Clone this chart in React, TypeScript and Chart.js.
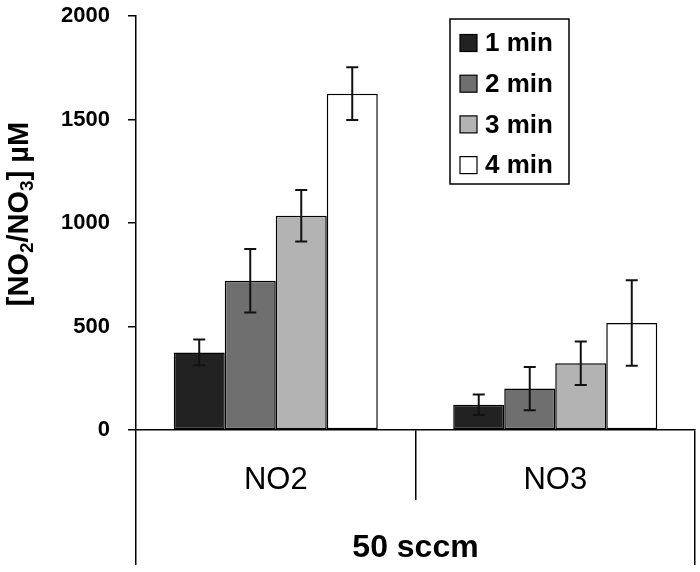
import React, { useEffect, useRef } from "react";
import { Chart, registerables } from "chart.js";

Chart.register(...registerables);

const categories = ["NO2", "NO3"];
const groupLabels = ["50 sccm"];
const seriesLabels = ["1 min", "2 min", "3 min", "4 min"];
const min1 = [375, 122];
const min2 = [721, 200];
const min3 = [1035, 322];
const min4 = [1625, 517];
const err1 = [62, 50];
const err2 = [153, 104];
const err3 = [124, 105];
const err4 = [128, 207];
const seriesColors = ["#222222", "#6f6f6f", "#b3b3b3", "#ffffff"];
const yMin = 0;
const yMax = 2000;
const yStep = 500;

const FONT = "'Liberation Sans', Arial, Helvetica, sans-serif";
const seriesValues = [min1, min2, min3, min4];
const seriesErrors = [err1, err2, err3, err4];

const errorBarPlugin = {
  id: "errorBars",
  afterDatasetsDraw(chart: any) {
    const ctx = chart.ctx;
    const yScale = chart.scales.y;
    ctx.save();
    ctx.strokeStyle = "#111";
    ctx.lineWidth = 2;
    chart.data.datasets.forEach((ds: any, i: number) => {
      const meta = chart.getDatasetMeta(i);
      meta.data.forEach((bar: any, j: number) => {
        const v = ds.data[j];
        const e = ds.errors[j];
        const yTop = yScale.getPixelForValue(v + e);
        const yBot = yScale.getPixelForValue(v - e);
        const x = bar.x;
        const cap = 6;
        ctx.beginPath();
        ctx.moveTo(x, yTop);
        ctx.lineTo(x, yBot);
        ctx.moveTo(x - cap, yTop);
        ctx.lineTo(x + cap, yTop);
        ctx.moveTo(x - cap, yBot);
        ctx.lineTo(x + cap, yBot);
        ctx.stroke();
      });
    });
    ctx.restore();
  },
};

const legendPlugin = {
  id: "boxLegend",
  afterDraw(chart: any) {
    const ctx = chart.ctx;
    const left = 450;
    const top = 19;
    const w = 119;
    const h = 165;
    ctx.save();
    ctx.fillStyle = "#fff";
    ctx.fillRect(left, top, w, h);
    ctx.strokeStyle = "#000";
    ctx.lineWidth = 1.5;
    ctx.strokeRect(left, top, w, h);
    ctx.font = `bold 26px ${FONT}`;
    ctx.textBaseline = "middle";
    ctx.textAlign = "left";
    chart.data.datasets.forEach((ds: any, i: number) => {
      const cy = 43 + i * 40.7;
      ctx.fillStyle = ds.backgroundColor;
      ctx.fillRect(460, cy - 8.5, 17, 17);
      ctx.lineWidth = 1.2;
      ctx.strokeStyle = "#000";
      ctx.strokeRect(460, cy - 8.5, 17, 17);
      ctx.fillStyle = "#000";
      ctx.fillText(ds.label, 485, cy + 1);
    });
    ctx.restore();
  },
};

const yTitlePlugin = {
  id: "yTitle",
  afterDraw(chart: any) {
    const ctx = chart.ctx;
    const size = 29;
    const sub = 19;
    const parts: [string, boolean][] = [
      ["[NO", false],
      ["2", true],
      ["/NO", false],
      ["3", true],
      ["] \u00b5M", false],
    ];
    ctx.save();
    let total = 0;
    const widths = parts.map(([t, s]) => {
      ctx.font = `bold ${s ? sub : size}px ${FONT}`;
      const wv = ctx.measureText(t).width;
      total += wv;
      return wv;
    });
    ctx.translate(18, 214);
    ctx.rotate(-Math.PI / 2);
    ctx.fillStyle = "#000";
    ctx.textBaseline = "alphabetic";
    ctx.textAlign = "left";
    let x = -total / 2;
    const base = (0.716 * size) / 2;
    parts.forEach(([t, s], i) => {
      ctx.font = `bold ${s ? sub : size}px ${FONT}`;
      ctx.fillText(t, x, s ? base + 5 : base);
      x += widths[i];
    });
    ctx.restore();
  },
};

export default function App() {
  const ref = useRef<HTMLCanvasElement | null>(null);
  useEffect(() => {
    if (!ref.current) return;
    const chart = new Chart(ref.current, {
      type: "bar",
      data: {
        labels: categories,
        datasets: seriesLabels.map((label, i) => ({
          label,
          data: seriesValues[i],
          errors: seriesErrors[i],
          backgroundColor: seriesColors[i],
          borderColor: "#000",
          borderWidth: 1.5,
          borderSkipped: false,
          xAxisID: "x",
          yAxisID: "y",
          categoryPercentage: 0.73,
          barPercentage: 1.0,
        })) as any,
      },
      options: {
        animation: false,
        responsive: false,
        devicePixelRatio: 1,
        layout: { padding: { left: 0, top: 0, right: 5, bottom: 0 } },
        plugins: {
          legend: { display: false },
          tooltip: { enabled: false },
        },
        scales: {
          x: {
            type: "category",
            position: "bottom",
            offset: true,
            weight: 0,
            grid: {
              offset: true,
              drawOnChartArea: false,
              drawTicks: true,
              tickLength: 70,
              color: "#000",
              lineWidth: 1.5,
            },
            border: { display: true, color: "#000", width: 1.5 },
            ticks: {
              color: "#000",
              font: { family: FONT, size: 31 },
              padding: -38,
              maxRotation: 0,
              autoSkip: false,
            },
            afterFit: (s: any) => {
              s.height = 70;
            },
          },
          x2: {
            type: "category",
            labels: groupLabels,
            position: "bottom",
            offset: true,
            weight: 1,
            grid: {
              offset: true,
              drawOnChartArea: false,
              drawTicks: true,
              tickLength: 65,
              color: "#000",
              lineWidth: 1.5,
            },
            border: { display: false },
            ticks: {
              color: "#000",
              font: { family: FONT, size: 32, weight: "bold" },
              padding: -36,
              maxRotation: 0,
              autoSkip: false,
            },
            afterFit: (s: any) => {
              s.height = 72;
            },
          },
          y: {
            min: yMin,
            max: yMax,
            position: "left",
            ticks: {
              stepSize: yStep,
              color: "#000",
              padding: 18,
              font: { family: FONT, size: 22, weight: "bold" },
              callback: (v: any) => String(v),
            },
            grid: {
              drawOnChartArea: false,
              drawTicks: true,
              tickLength: 8,
              color: "#000",
              lineWidth: 1.5,
            },
            border: { color: "#000", width: 1.5 },
            afterFit: (s: any) => {
              s.width = 136;
              s.paddingTop = 16;
              s.paddingBottom = 14;
            },
          },
        } as any,
      },
      plugins: [errorBarPlugin, legendPlugin, yTitlePlugin],
    });
    return () => chart.destroy();
  }, []);
  return (
    <div style={{ position: "absolute", left: 0, top: 0, width: 700, height: 572, background: "#fff" }}>
      <canvas ref={ref} width={700} height={572} style={{ display: "block" }} />
    </div>
  );
}
